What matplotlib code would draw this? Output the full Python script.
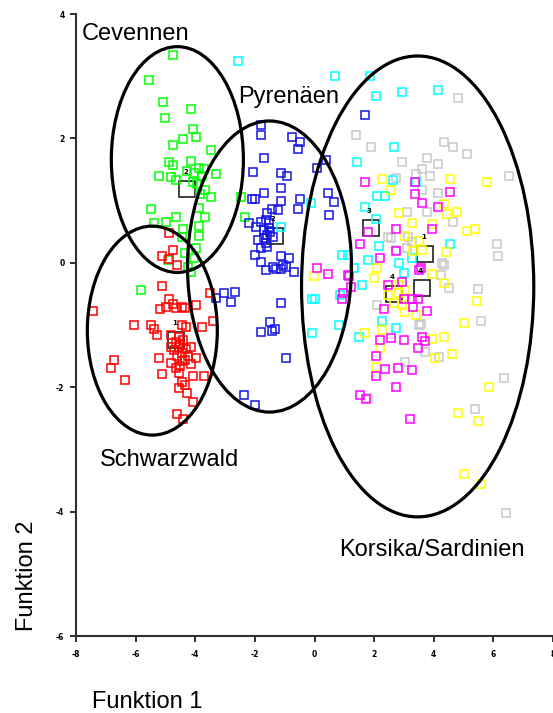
import numpy as np
import matplotlib
matplotlib.use('Agg')
import matplotlib.pyplot as plt
from matplotlib.patches import Ellipse

# discriminant scores (Funktion 1, Funktion 2) per region / subgroup
cev_x = [-4.73, -5.54, -5.07, -4.13, -5.00, -4.06, -4.40, -3.99, -4.73, -3.46,
         -4.87, -4.73, -4.13, -3.89, -3.69, -5.20, -4.83, -4.66, -4.03, -3.79,
         -3.32, -4.26, -4.09, -3.93, -3.66, -3.46, -3.83, -5.47, -4.66, -5.40,
         -4.97, -3.86, -3.66, -3.89, -3.86, -4.46, -3.99, -4.33, -4.90, -4.23,
         -4.13, -5.81, -2.45, -2.32, -4.03, -4.40]
cev_y = [3.34, 2.94, 2.59, 2.48, 2.32, 2.15, 1.99, 2.03, 1.90, 1.82,
         1.62, 1.58, 1.64, 1.53, 1.50, 1.40, 1.38, 1.33, 1.45, 1.40,
         1.43, 1.48, 1.30, 1.27, 1.17, 1.06, 1.11, 0.87, 0.74, 0.64,
         0.66, 0.88, 0.74, 0.59, 0.43, 0.42, 0.24, 0.16, 0.05, -0.06,
         -0.14, -0.43, 1.05, 0.74, 0.08, 0.55]

sch_x = [-4.87, -4.73, -5.13, -4.60, -4.87, -5.13, -3.52, -4.87, -5.17, -4.97,
         -4.66, -4.46, -4.36, -3.99, -4.73, -7.42, -6.07, -5.47, -5.40, -5.27,
         -4.46, -4.30, -3.79, -3.39, -4.80, -4.56, -4.83, -4.56, -4.46, -4.33,
         -4.13, -3.96, -5.23, -4.80, -4.50, -4.13, -5.13, -6.74, -6.81, -6.34,
         -4.06, -3.72, -4.46, -4.33, -4.56, -4.26, -4.06, -4.60, -4.40, -4.63,
         -4.50, -4.70, -4.40, -4.60, -4.43, -4.66, -4.30, -4.23, -4.53]
sch_y = [0.48, 0.21, 0.11, -0.03, 0.06, -0.37, -0.48, -0.58, -0.74, -0.71,
         -0.72, -0.71, -0.72, -0.68, -0.66, -0.77, -1.00, -1.00, -1.06, -1.16,
         -1.00, -1.03, -1.03, -0.93, -1.16, -1.19, -1.35, -1.35, -1.45, -1.56,
         -1.35, -1.53, -1.53, -1.61, -1.66, -1.62, -1.78, -1.56, -1.69, -1.88,
         -1.82, -1.82, -1.91, -1.96, -2.01, -2.09, -2.23, -2.43, -2.51, -1.27,
         -1.30, -1.40, -1.24, -1.50, -1.58, -1.69, -1.38, -1.50, -1.77]

pyr_x = [-1.78, -1.81, -0.77, -0.47, -0.57, -1.71, -2.05, -1.11, -0.91, -1.11,
         0.10, 0.40, -1.71, -2.11, -1.98, -1.14, -0.47, -0.57, 0.44, 0.64,
         0.50, -1.21, -1.44, -1.58, -2.21, -1.95, -1.64, -1.54, -1.71, -1.61,
         -1.48, -1.38, -1.64, -1.78, -1.61, -1.98, -1.78, -1.64, -1.38, -1.28,
         -1.11, -0.87, -1.04, -1.14, -0.97, -0.70, -3.05, -3.32, -2.65, -2.79,
         -1.11, -1.48, -1.78, -1.34, -1.44, -0.97, -2.38, -1.98, 1.71, -1.81,
         -1.68, -1.51, -1.88]
pyr_y = [2.22, 2.06, 2.03, 1.95, 1.83, 1.69, 1.46, 1.45, 1.40, 1.21,
         1.53, 1.66, 1.13, 1.03, 1.03, 1.00, 1.03, 0.87, 1.13, 0.98,
         0.77, 0.85, 0.87, 0.80, 0.64, 0.58, 0.69, 0.64, 0.53, 0.45,
         0.50, 0.42, 0.32, 0.24, 0.26, 0.13, 0.02, -0.11, -0.06, -0.10,
         0.11, 0.08, -0.03, -0.10, -0.06, -0.14, -0.48, -0.56, -0.47, -0.63,
         -0.64, -0.95, -1.11, -1.06, -1.09, -1.53, -2.12, -2.28, 2.38, 0.66,
         0.40, 0.56, 0.37]

# Korsika/Sardinien subgroups
cyan_x = [0.70, 1.85, 2.05, 2.92, 4.13, -2.58, 2.68, 1.44, 2.11, 2.35,
          1.68, 2.05, 2.18, 4.56, 1.81, 2.82, 3.26, 0.91, 1.11, 1.31,
          1.58, 2.99, -0.10, 0.03, -0.10, 0.81, 1.48, 2.25, 2.72, -1.11,
          -0.13, 2.62, 3.42, 0.87]
cyan_y = [3.01, 3.01, 2.68, 2.75, 2.78, 3.25, 1.86, 1.62, 1.08, 1.08,
          0.90, 0.71, 0.27, 0.31, 0.05, 0.00, 0.08, 0.13, 0.13, -0.08,
          -0.35, -0.16, -0.58, -0.59, -1.13, -1.00, -1.19, -0.93, -1.05, 0.58,
          0.96, 1.33, 1.30, -0.51]

mag_x = [1.68, 3.36, 3.36, 3.59, 4.53, 4.13, 1.78, 2.75, 3.93, 1.51,
         2.21, 2.72, 3.56, 0.10, 0.44, 1.17, 2.45, 2.92, 0.97, 0.91,
         2.99, 3.26, 3.46, 2.32, 3.29, 3.79, 2.21, 2.55, 2.99, 3.59,
         3.72, 3.46, 2.05, 2.38, 2.79, 3.26, 2.05, 2.72, 1.51, 1.74,
         3.22, 1.14, 1.21, 3.49]
mag_y = [1.30, 1.30, 1.11, 0.96, 1.14, 0.90, 0.50, 0.55, 0.55, 0.31,
         0.08, 0.19, -0.08, -0.08, -0.18, -0.21, -0.35, -0.31, -0.48, -0.58,
         -0.58, -0.58, -0.58, -0.74, -0.71, -0.77, -1.24, -1.21, -1.24, -1.19,
         -1.25, -1.37, -1.50, -1.70, -1.69, -1.72, -1.82, -1.99, -2.12, -2.19,
         -2.51, -0.19, -0.39, -0.11]

yel_x = [2.25, 2.58, 4.56, 5.77, 4.36, 4.77, 4.43, 2.85, 3.26, 3.93,
         5.10, 5.37, 3.05, 3.49, 3.32, 3.59, 4.40, 2.11, 1.98, 3.93,
         4.33, 2.82, -0.03, 2.48, 2.82, 3.05, 3.05, 3.39, 1.68, 2.25,
         2.21, 3.93, 4.36, 4.60, 4.03, 2.05, 5.44, 5.03, 5.84, 4.80,
         5.47, 5.03, 5.60, 2.68, 2.92]
yel_y = [1.35, 1.17, 1.35, 1.30, 0.95, 0.82, 0.79, 0.80, 0.64, 0.63,
         0.51, 0.55, 0.43, 0.35, 0.19, 0.21, 0.18, -0.08, -0.24, -0.18,
         -0.32, -0.35, -0.21, -0.51, -0.48, -0.43, -0.79, -0.84, -1.13, -1.08,
         -1.37, -1.22, -1.19, -1.46, -1.53, -1.67, -0.61, -0.96, -1.99, -2.41,
         -2.54, -3.39, -3.55, -0.64, -0.68]

gray_x = [4.80, 1.38, 1.91, 4.36, 4.66, 5.13, 3.76, 2.92, 4.13, 3.62,
          3.89, 6.51, 2.75, 3.39, 3.59, 4.13, 3.09, 3.76, 4.63, 6.11,
          6.17, 5.50, 2.58, 3.15, 2.72, 3.09, 4.26, 4.23, 4.50, 4.33,
          5.60, 6.34, 5.40, 6.41, 2.08, 3.56, 3.02, 3.69, 4.16, 1.78,
          2.48, 3.26, 3.49]
gray_y = [2.65, 2.06, 1.86, 1.95, 1.86, 1.75, 1.69, 1.62, 1.59, 1.50,
          1.40, 1.40, 1.37, 1.43, 1.17, 1.13, 0.82, 0.82, 0.66, 0.31,
          0.11, -0.42, 0.40, 0.42, 0.21, 0.24, 0.00, -0.19, -0.40, -0.03,
          -0.93, -1.85, -2.35, -4.02, -0.68, -0.98, -1.59, -1.43, -1.51, -2.17,
          0.42, 0.34, -1.00]

# group centroids and their numbers
cent_x = [-4.63, -4.26, -1.34, 1.88, 3.72, 3.59, 2.65]
cent_y = [-1.24, 1.19, 0.43, 0.56, 0.14, -0.40, -0.50]
cent_lab = ['1', '2', '2', '3', '1', '4', '4']

# region ellipses: centre x, centre y, width, height
ell_cx = [-4.60, -5.44, -1.51, 3.46]
ell_cy = [1.66, -1.09, -0.06, -0.38]
ell_w = [4.43, 4.36, 5.50, 7.79]
ell_h = [3.63, 3.36, 4.68, 7.41]

region_names = ['Cevennen', 'Pyrenäen', 'Schwarzwald', 'Korsika/Sardinien']
region_tx = [-7.82, -2.55, -7.21, 0.81]
region_ty = [3.59, 2.57, -3.26, -4.71]

plt.rcParams['font.family'] = ['Liberation Sans', 'DejaVu Sans']

fig = plt.figure(figsize=(5.53, 7.13), dpi=100)
ax = fig.add_axes([76/553, 77/713, 477/553, 622/713])

for xs, ys, col in [(gray_x, gray_y, '#c8c8c8'), (cyan_x, cyan_y, '#00ffff'),
                    (yel_x, yel_y, '#ffff00'), (mag_x, mag_y, '#ff00ff'),
                    (cev_x, cev_y, '#00ff00'), (sch_x, sch_y, '#ff0000'),
                    (pyr_x, pyr_y, '#1414e6')]:
    ax.plot(xs, ys, 's', mfc='none', mec=col, ms=6.2, mew=1.1, ls='none', zorder=3)

ax.plot(cent_x, cent_y, 's', mfc='none', mec='#202020', ms=12, mew=1.2, ls='none', zorder=2)
for cx, cy, lab in zip(cent_x, cent_y, cent_lab):
    ax.text(cx - 0.05, cy + 0.27, lab, fontsize=5, fontweight='bold',
            family='DejaVu Sans', ha='center', va='center', zorder=4)

for cx, cy, w, h in zip(ell_cx, ell_cy, ell_w, ell_h):
    ax.add_patch(Ellipse((cx, cy), w, h, fill=False, ec='black', lw=2.3, zorder=5))

for name, tx, ty in zip(region_names, region_tx, region_ty):
    ax.text(tx, ty, name, fontsize=17, ha='left', va='baseline', zorder=6)

ax.set_xlim(-8, 8)
ax.set_ylim(-6, 4)
ax.set_xticks(np.arange(-8, 9, 2))
ax.set_yticks(np.arange(-6, 5, 2))
ax.set_xticklabels([str(v) for v in range(-8, 9, 2)])
ax.set_yticklabels([str(v) for v in range(-6, 5, 2)])
for lab in ax.get_xticklabels() + ax.get_yticklabels():
    lab.set_fontsize(5.5)
    lab.set_fontweight('bold')
    lab.set_family('DejaVu Sans')
ax.tick_params(direction='out', length=4.3, width=1.4, color='#303030')
ax.tick_params(axis='y', pad=4)
ax.tick_params(axis='x', pad=6)
ax.spines['top'].set_visible(False)
ax.spines['right'].set_visible(False)
for s in ['left', 'bottom']:
    ax.spines[s].set_linewidth(1.5)
    ax.spines[s].set_color('#303030')
ax.patch.set_alpha(0)

fig.text(92/553, 4.5/713, 'Funktion 1', fontsize=17, ha='left', va='baseline')
fig.text(27/553, 1 - 576/713, 'Funktion 2', fontsize=17, rotation=90,
         ha='center', va='center')

fig.savefig('out.png', dpi=100)
